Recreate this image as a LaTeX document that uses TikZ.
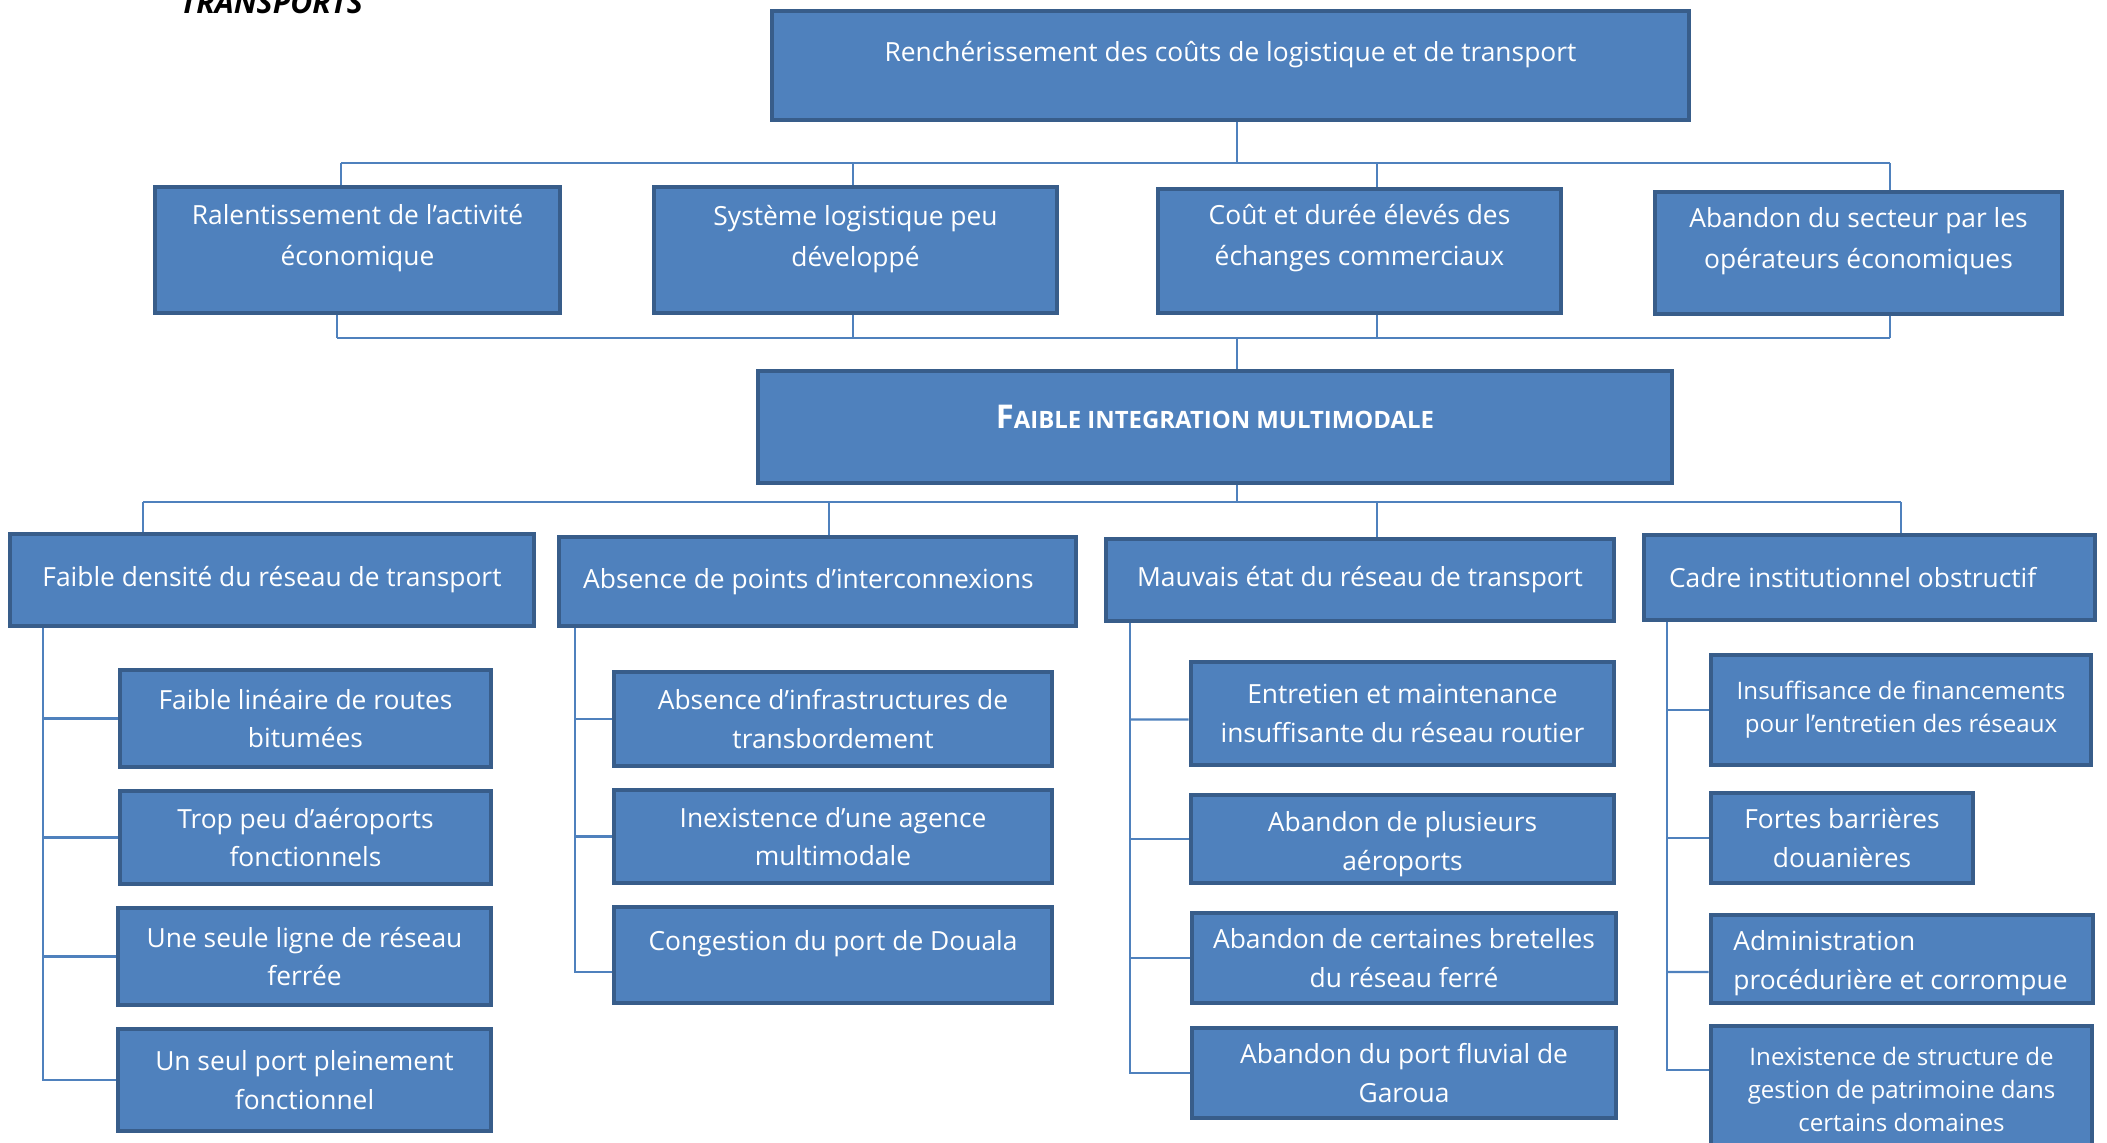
\documentclass[tikz,border=0pt]{standalone}
\usepackage{fontspec}
\setmainfont{Open Sans}
\usepackage{tikz}
\usetikzlibrary{fit}
\usepackage{xcolor}
\definecolor{CauseBlue}{HTML}{4F81BD}
\definecolor{CauseEdge}{HTML}{385D8A}
\definecolor{LinkBlue}{HTML}{4F81BD}
\tikzset{
    % Box styles
    causebox/.style={
        rectangle,
        draw=CauseEdge,
        fill=CauseBlue,
        line width=1.3pt,
        inner sep=0pt
    },
    causetext/.style={
        text=white,
        align=center,
        inner sep=0pt,
        font=\fontsize{7.5}{11}\selectfont
    },
    effecttext/.style={
        causetext,
        font=\fontsize{7.5}{11.6}\selectfont
    },
    smalltext/.style={
        causetext,
        font=\fontsize{6.85}{9.3}\selectfont
    },
    % Connector style
    link/.style={
        draw=LinkBlue,
        line width=0.6pt
    }
}

\begin{document}
\begin{tikzpicture}[x=0.01cm, y=-0.01cm]
    \useasboundingbox (0,0) rectangle (2107,1143);
    \clip (0,0) rectangle (2107,1143);

    \node[anchor=base west, font=\bfseries\itshape\fontsize{8.6}{10}\selectfont] (title) at (168,14) {TRANSPORTS};

    % effects
    \node[causebox, fit={(772,11) (1689,120)},
        label={[effecttext, yshift=3pt]center:Renchérissement des coûts de logistique et de transport}] (top) {};
    \node[causebox, fit={(155,187) (560,313)},
        label={[effecttext, yshift=3.4pt]center:Ralentissement de l’activité\\économique}] (rA) {};
    \node[causebox, fit={(654,187) (1057,313)},
        label={[effecttext, yshift=3.2pt]center:Système logistique peu\\développé}] (rB) {};
    \node[causebox, fit={(1158,189) (1561,313)},
        label={[effecttext, yshift=3.6pt]center:Coût et durée élevés des\\échanges commerciaux}] (rC) {};
    \node[causebox, fit={(1655,192) (2062,314)},
        label={[effecttext, yshift=3.4pt]center:Abandon du secteur par les\\opérateurs économiques}] (rD) {};

    % core problem
    \node[causebox, fit={(758,371) (1672,483)},
        label={[causetext, yshift=2.8pt, font=\bfseries]center:{\fontsize{9.3}{10}\selectfont F}{\fontsize{6.8}{10}\selectfont AIBLE INTEGRATION MULTIMODALE}}] (faible) {};

    % causes
    \node[causebox, fit={(10,534) (534,626)},
        label={[causetext]center:Faible densité du réseau de transport}] (hA) {};
    \node[causebox, fit={(559,537) (1076,626)},
        label={[causetext, xshift=-2.6pt]center:Absence de points d’interconnexions}] (hB) {};
    \node[causebox, fit={(1106,539) (1614,621)},
        label={[causetext]center:Mauvais état du réseau de transport}] (hC) {};
    \node[causebox, fit={(1644,535) (2095,620)},
        label={[causetext, xshift=-4.8pt]center:Cadre institutionnel obstructif}] (hD) {};

    \node[causebox, fit={(120,670) (491,767)},
        label={[causetext]center:Faible linéaire de routes\\bitumées}] (cA1) {};
    \node[causebox, fit={(120,791) (491,884)},
        label={[causetext]center:Trop peu d’aéroports\\fonctionnels}] (cA2) {};
    \node[causebox, fit={(118,908) (491,1005)},
        label={[causetext]center:Une seule ligne de réseau\\ferrée}] (cA3) {};
    \node[causebox, fit={(118,1029) (491,1131)},
        label={[causetext]center:Un seul port pleinement\\fonctionnel}] (cA4) {};

    \node[causebox, fit={(614,672) (1052,766)},
        label={[causetext]center:Absence d’infrastructures de\\transbordement}] (cB1) {};
    \node[causebox, fit={(614,790) (1052,883)},
        label={[causetext]center:Inexistence d’une agence\\multimodale}] (cB2) {};
    \node[causebox, fit={(614,907) (1052,1003)},
        label={[causetext, yshift=3.1pt]center:Congestion du port de Douala}] (cB3) {};

    \node[causebox, fit={(1191,662) (1614,765)},
        label={[causetext]center:Entretien et maintenance\\insuffisante du réseau routier}] (cC1) {};
    \node[causebox, fit={(1191,795) (1614,883)},
        label={[causetext, yshift=-1.4pt]center:Abandon de plusieurs\\aéroports}] (cC2) {};
    \node[causebox, fit={(1192,913) (1616,1003)},
        label={[causetext]center:Abandon de certaines bretelles\\du réseau ferré}] (cC3) {};
    \node[causebox, fit={(1192,1028) (1616,1118)},
        label={[causetext]center:Abandon du port fluvial de\\Garoua}] (cC4) {};

    \node[causebox, fit={(1711,655) (2091,765)},
        label={[smalltext]center:Insuffisance de financements\\pour l’entretien des réseaux}] (cD1) {};
    \node[causebox, fit={(1711,793) (1973,883)},
        label={[causetext]center:Fortes barrières\\douanières}] (cD2) {};
    \node[causebox, fit={(1711,915) (2093,1003)},
        label={[causetext, align=left, anchor=west, xshift=6.8pt, yshift=-1.1pt]west:Administration\\procédurière et corrompue}] (cD3) {};
    \node[causebox, fit={(1711,1026) (2092,1160)},
        label={[smalltext, anchor=north, yshift=-6.6pt]north:Inexistence de structure de\\gestion de patrimoine dans\\certains domaines}] (cD4) {};

    % buses
    \coordinate (spine) at (1237,338);
    \coordinate (tA) at (341,163);
    \coordinate (tB) at (853,163);
    \coordinate (tC) at (1377,163);
    \coordinate (tD) at (1890,163);
    \coordinate (uA) at (337,338);
    \coordinate (uB) at (853,338);
    \coordinate (uC) at (1377,338);
    \coordinate (uD) at (1890,338);
    \coordinate (lA) at (143,502);
    \coordinate (lB) at (829,502);
    \coordinate (lC) at (1377,502);
    \coordinate (lD) at (1901,502);
    \coordinate (kA) at (43,0);
    \coordinate (kB) at (575,0);
    \coordinate (kC) at (1130,0);
    \coordinate (kD) at (1667,0);

    \draw[link] (spine |- top.south) -- (spine |- tA);
    \draw[link] (tA) -- (tD);
    \foreach \c/\r in {tA/rA, tB/rB, tC/rC, tD/rD}
        \draw[link] (\c) -- (\c |- \r.north);

    \draw[link] (uA) -- (uD);
    \foreach \c/\r in {uA/rA, uB/rB, uC/rC, uD/rD}
        \draw[link] (\c |- \r.south) -- (\c);
    \draw[link] (spine) -- (spine |- faible.north);

    \draw[link] (spine |- faible.south) -- (spine |- lA);
    \draw[link] (lA) -- (lD);
    \foreach \c/\h in {lA/hA, lB/hB, lC/hC, lD/hD}
        \draw[link] (\c) -- (\c |- \h.north);

    % trunks
    \draw[link] (kA |- hA.south) |- (cA4.west);
    \foreach \c in {cA1, cA2, cA3}
        \draw[link] (kA |- \c.west) -- (\c.west);
    \draw[link] (kB |- hB.south) |- ([yshift=-4.8pt]cB3.west);
    \foreach \c in {cB1, cB2}
        \draw[link] (kB |- \c.west) -- (\c.west);
    \draw[link] (kC |- hC.south) |- (cC4.west);
    \draw[link] (kC |- cC1.west) ++(0,6) -- ([yshift=-1.7pt]cC1.west);
    \foreach \c in {cC2, cC3}
        \draw[link] (kC |- \c.west) -- (\c.west);
    \draw[link] (kD |- hD.south) |- ([yshift=6.5pt]cD4.west);
    \foreach \c in {cD1, cD2}
        \draw[link] (kD |- \c.west) -- (\c.west);
    \draw[link] (kD |- cD3.west) ++(0,13) -- ([yshift=-3.7pt]cD3.west);
\end{tikzpicture}
\end{document}
